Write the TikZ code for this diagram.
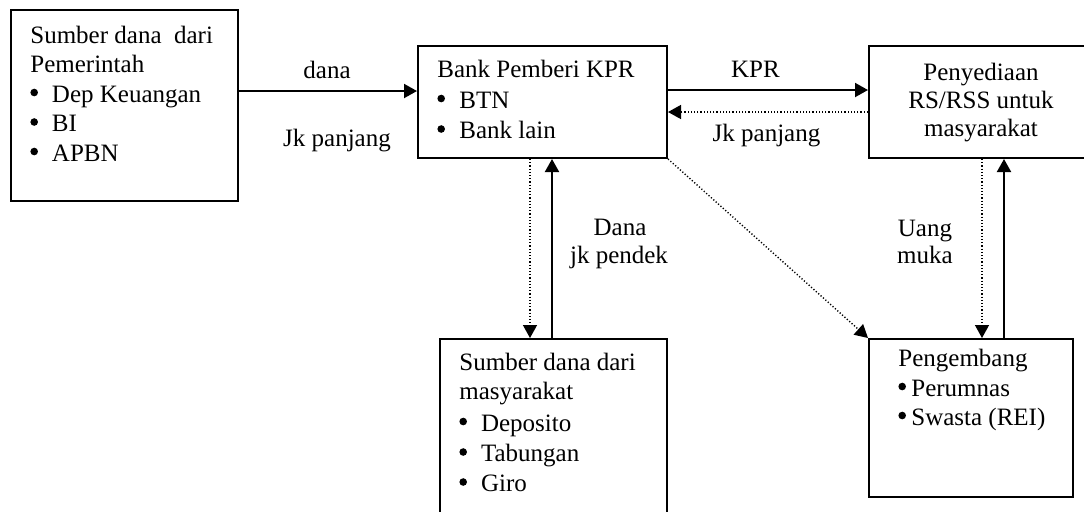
\documentclass[tikz,border=0pt]{standalone}
\usepackage{fontspec}
\setmainfont{Liberation Serif}
\usetikzlibrary{arrows.meta}
\tikzset{
  box/.style={draw, line width=1pt, rectangle, inner sep=0pt, anchor=north west},
  txt/.style={anchor=base west, inner sep=0pt, font=\fontsize{12.5}{14}\selectfont},
  ctxt/.style={anchor=base, inner sep=0pt, font=\fontsize{12.5}{14}\selectfont},
  arr/.style={line width=1pt, -{Triangle[length=6.5pt,width=7pt]}},
  darr/.style={line width=0.7pt, dash pattern=on 0.6pt off 1pt, -{Triangle[length=6.5pt,width=7pt]}},
}
\newcommand{\bul}[1]{\makebox[#1][l]{\tikz[baseline=0pt]\fill (2.4pt,4.75pt) circle[radius=1.9pt];}}
\begin{document}
\begin{tikzpicture}[x=0.5pt,y=-0.5pt]
\useasboundingbox (0,0) rectangle (1084,511);
\clip (0,0) rectangle (1084,511);
% boxes
\node[box, minimum width=113.5pt, minimum height=95.5pt] (b1) at (10,9) {};
\node[box, minimum width=124.5pt, minimum height=56pt] (b2) at (417,45) {};
\node[box, minimum width=113pt, minimum height=56pt] (b3) at (868,45) {};
\node[box, minimum width=102pt, minimum height=79pt] (b4) at (868,338) {};
\node[box, minimum width=113.5pt, minimum height=96pt] (b5) at (439,338) {};
% box 1 text
\node[txt] (t1a) at (30,43.5) {Sumber dana\ \ dari};
\node[txt] (t1b) at (30,72.5) {Pemerintah};
\node[txt] (t1c) at (30,102) {\bul{10.8pt}Dep Keuangan};
\node[txt] (t1d) at (30,131.5) {\bul{10.8pt}BI};
\node[txt] (t1e) at (30,161) {\bul{10.8pt}APBN};
% box 2 text
\node[txt] (t2a) at (437,77) {Bank Pemberi KPR};
\node[txt] (t2b) at (437,108) {\bul{11pt}BTN};
\node[txt] (t2c) at (437,138.5) {\bul{11pt}Bank lain};
% box 3 text
\node[ctxt] (t3a) at (981,80.5) {Penyediaan};
\node[ctxt] (t3b) at (981,108.5) {RS/RSS untuk};
\node[ctxt] (t3c) at (981,136.5) {masyarakat};
% box 4 text
\node[txt] (t4a) at (898,366.5) {Pengembang};
\node[txt] (t4b) at (898,396) {\bul{6.5pt}Perumnas};
\node[txt] (t4c) at (898,425) {\bul{6.5pt}Swasta (REI)};
% box 5 text
\node[txt] (t5a) at (459,370.5) {Sumber dana dari};
\node[txt] (t5b) at (459,399.5) {masyarakat};
\node[txt] (t5c) at (459,431) {\bul{10.8pt}Deposito};
\node[txt] (t5d) at (459,461.5) {\bul{10.8pt}Tabungan};
\node[txt] (t5e) at (459,491.5) {\bul{10.8pt}Giro};
% labels
\node[ctxt] (l1) at (327,78) {dana};
\node[ctxt] (l2) at (337,146.5) {Jk panjang};
\node[ctxt] (l3) at (755.5,77.5) {KPR};
\node[ctxt] (l4) at (766.5,141.5) {Jk panjang};
\node[ctxt] (l5) at (620,235) {Dana};
\node[ctxt] (l6) at (619,263) {jk pendek};
\node[ctxt] (l7) at (925,236.5) {Uang};
\node[ctxt] (l8) at (925,263) {muka};
% connectors
\draw[arr] (b1.east |- 0,91) -- (b2.west |- 0,91);
\draw[arr] (b2.east |- 0,90) -- (b3.west |- 0,90);
\draw[darr] (b3.west |- 0,112) -- (b2.east |- 0,112);
\draw[darr] (b2.south -| 530,0) -- (b5.north -| 530,0);
\draw[arr] (b5.north -| 552,0) -- (b2.south -| 552,0);
\draw[darr] (b2.south east) -- (b4.north west);
\draw[darr] (b3.south -| 982,0) -- (b4.north -| 982,0);
\draw[arr] (b4.north -| 1004,0) -- (b3.south -| 1004,0);
\end{tikzpicture}
\end{document}
